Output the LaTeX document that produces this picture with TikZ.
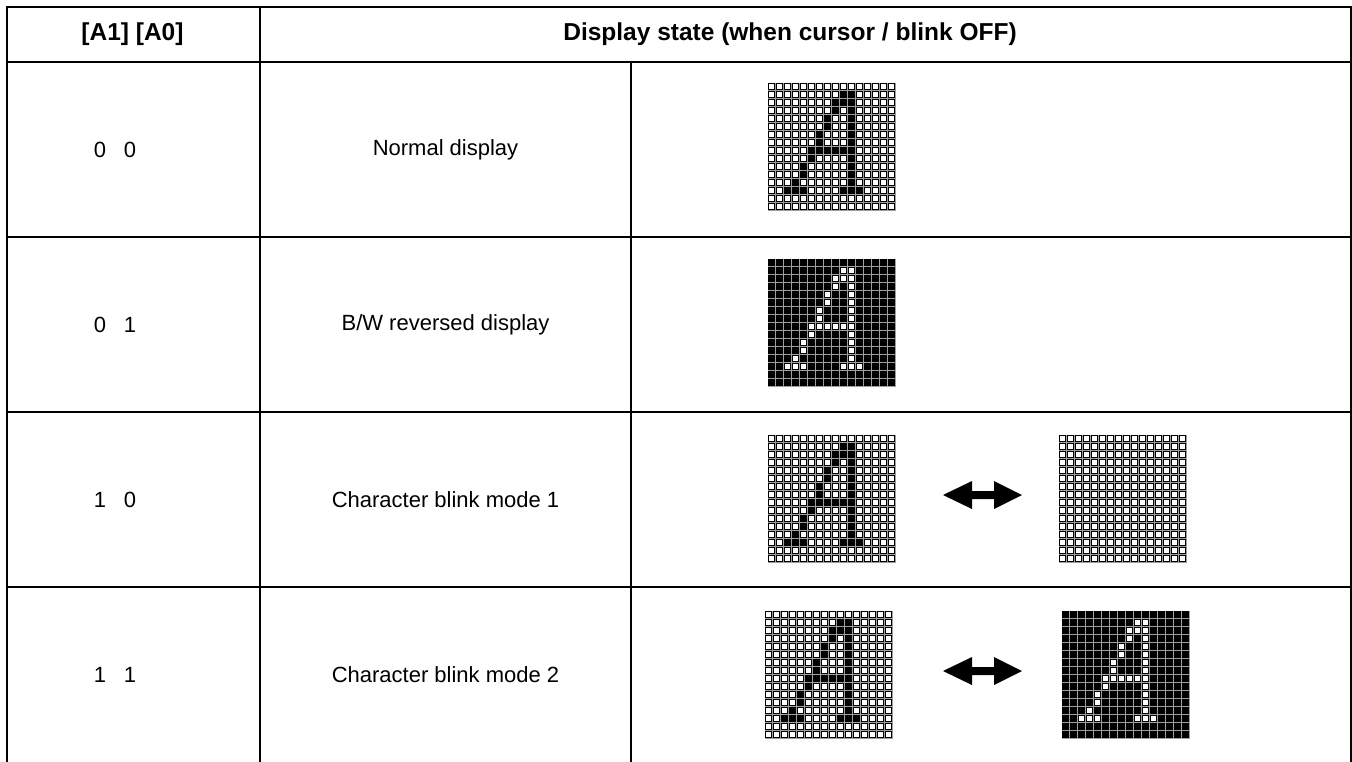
\documentclass[tikz,border=0pt]{standalone}
\usepackage{fontspec}
\setmainfont{Liberation Sans}
\definecolor{gapgray}{HTML}{A0A0A0}
% lit dots of the 16x16 glyph "A" (row/column, counted from the top left)
\def\glyphA{1/9,1/10,2/8,2/9,2/10,3/8,3/10,4/7,4/10,5/7,5/10,6/6,6/10,7/6,7/10,8/5,8/6,8/7,8/8,8/9,8/10,9/5,9/10,10/4,10/10,11/4,11/10,12/3,12/10,13/2,13/3,13/4,13/9,13/10,13/11}
% dot matrix: #1 x, #2 y, #3 centre colour of lit dots, #4 centre colour of other dots, #5 name
\newcommand\dotmatrix[5]{%
  \begin{scope}[shift={(#1,#2)}]
    \fill[gapgray] (0,0) rectangle (128,128);
    \coordinate (#5) at (64,64);
    \foreach \r in {0,...,15}{\foreach \c in {0,...,15}{%
      \fill[black] (\c*8,\r*8) rectangle ++(7,7);
      \fill[#4] (\c*8+1.2,\r*8+1.2) rectangle ++(4.6,4.6);}}
    \foreach \r/\c in \glyphA {%
      \fill[#3] (\c*8+1.2,\r*8+1.2) rectangle ++(4.6,4.6);}
  \end{scope}}
\tikzset{
  rule/.style={line width=2pt, line cap=rect},
  headtext/.style={font=\fontsize{24.5}{28}\selectfont\bfseries, anchor=center},
  bodytext/.style={font=\fontsize{22}{26}\selectfont, anchor=center},
  swapmark/.style={fill=black},
}
\begin{document}
\begin{tikzpicture}[x=1pt,y=-1pt]
  \useasboundingbox (0,0) rectangle (1352,761);
  % table rules
  \draw[rule] (7,761) -- (7,7) -- (1351,7) -- (1351,761);
  \draw[rule] (7,62) -- (1351,62);
  \draw[rule] (7,237) -- (1351,237);
  \draw[rule] (7,412) -- (1351,412);
  \draw[rule] (7,587) -- (1351,587);
  \draw[rule] (260,7) -- (260,761);
  \draw[rule] (631,62) -- (631,761);
  % header
  \node[headtext] (hA) at (132.5,34.5) {[A1] [A0]};
  \node[headtext] (hS) at (790,34.5) {Display state (when cursor / blink OFF)};
  % address bits
  \node[bodytext] (a1r1) at (100,150) {0};
  \node[bodytext] (a0r1) at (130,150) {0};
  \node[bodytext] (a1r2) at (100,325) {0};
  \node[bodytext] (a0r2) at (130,325) {1};
  \node[bodytext] (a1r3) at (100,500) {1};
  \node[bodytext] (a0r3) at (130,500) {0};
  \node[bodytext] (a1r4) at (100,675) {1};
  \node[bodytext] (a0r4) at (130,675) {1};
  % mode names
  \node[bodytext] (m1) at (445.5,150) {Normal display};
  \node[bodytext] (m2) at (445.5,325) {B/W reversed display};
  \node[bodytext] (m3) at (445.5,500) {Character blink mode 1};
  \node[bodytext] (m4) at (445.5,675) {Character blink mode 2};
  % dot matrices
  \dotmatrix{768}{83}{black}{white}{g1}
  \dotmatrix{768}{259}{white}{black}{g2}
  \dotmatrix{768}{435}{black}{white}{g3a}
  \dotmatrix{1059}{435}{white}{white}{g3b}
  \dotmatrix{765}{611}{black}{white}{g4a}
  \dotmatrix{1062}{611}{white}{black}{g4b}
  % alternation marks
  \foreach \yy in {495,671}{
    \fill[swapmark] (943,\yy) -- (972,\yy-14) -- (972,\yy-4) -- (994,\yy-4)
      -- (994,\yy-14) -- (1022,\yy) -- (994,\yy+14) -- (994,\yy+4)
      -- (972,\yy+4) -- (972,\yy+14) -- cycle;
  }
\end{tikzpicture}
\end{document}
